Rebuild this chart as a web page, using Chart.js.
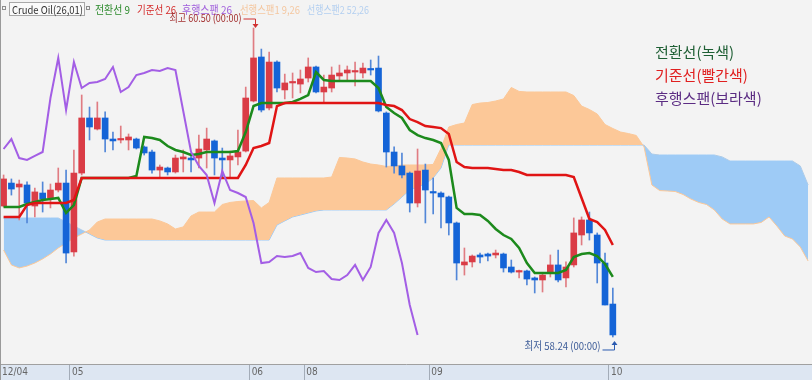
<!DOCTYPE html>
<html><head><meta charset="utf-8">
<script src="https://cdn.jsdelivr.net/npm/chart.js@4.4.1/dist/chart.umd.min.js"></script>
<style>html,body{margin:0;padding:0;background:#f3f3f3;}canvas{display:block;}</style>
</head><body>
<canvas id="c" width="812" height="380"></canvas>
<script>
// ---------- data ----------
const title = 'Crude Oil(26,01)';
const tickLabels = ['12/04', '05', '06', '08', '09', '10'];
const tickAt = [-0.46, 8.5, 31.5, 38.5, 54.5, 77.5];

const open = [59.198,59.366,59.337,59.352,59.198,59.293,59.257,59.315,59.366,58.862,
59.439,59.842,59.761,59.842,59.688,59.681,59.681,59.688,59.630,59.593,
59.461,59.476,59.447,59.542,59.549,59.549,59.608,59.674,59.549,59.535,
59.557,59.600,59.966,60.288,59.915,60.251,60.047,60.098,60.090,60.134,
60.215,60.032,60.061,60.149,60.171,60.178,60.171,60.200,60.207,59.878,
59.593,59.491,59.439,59.220,59.461,59.301,59.293,59.264,59.074,58.767,
58.789,58.840,58.847,58.840,58.847,58.752,58.715,58.723,58.672,58.657,
58.715,58.767,58.672,58.767,58.986,59.096,58.986,58.781,58.481];
const high = [59.425,59.396,59.388,59.374,59.330,59.374,59.359,59.476,59.461,59.608,
60.010,59.922,59.959,59.886,59.739,59.783,59.725,59.695,59.637,59.608,
59.498,59.483,59.571,59.608,59.586,59.717,59.768,59.681,59.622,59.600,
59.754,60.068,60.500,60.346,60.324,60.259,60.163,60.171,60.193,60.281,
60.222,60.156,60.215,60.229,60.222,60.251,60.244,60.266,60.295,59.886,
59.630,59.586,59.447,59.615,59.505,59.403,59.301,59.271,59.081,58.891,
58.840,58.854,58.854,58.876,58.854,58.803,58.730,58.730,58.679,58.708,
58.840,58.876,58.789,59.111,59.118,59.154,59.001,58.854,58.598];
const low = [59.191,59.278,59.096,59.074,59.118,59.154,59.184,59.301,58.781,58.832,
59.425,59.681,59.754,59.593,59.608,59.659,59.608,59.615,59.571,59.439,
59.410,59.425,59.439,59.447,59.447,59.476,59.476,59.425,59.410,59.403,
59.498,59.593,59.959,59.886,59.900,60.032,59.981,59.988,60.025,60.105,
60.025,59.959,60.032,60.120,60.120,60.076,60.134,60.156,59.886,59.483,
59.439,59.403,59.154,59.191,59.074,59.140,59.037,58.986,58.657,58.693,
58.752,58.781,58.796,58.818,58.715,58.708,58.672,58.620,58.562,58.569,
58.679,58.642,58.606,58.752,58.913,58.949,58.635,58.474,58.240];
const close = [59.396,59.322,59.359,59.220,59.301,59.249,59.315,59.366,58.854,59.439,
59.842,59.776,59.842,59.688,59.674,59.688,59.703,59.622,59.586,59.461,
59.483,59.447,59.549,59.557,59.535,59.615,59.688,59.549,59.535,59.564,
59.593,59.988,60.281,59.900,60.251,60.061,60.098,60.105,60.127,60.215,
60.032,60.068,60.156,60.171,60.193,60.186,60.207,60.193,59.893,59.593,
59.491,59.425,59.220,59.454,59.315,59.293,59.264,59.074,58.781,58.789,
58.832,58.825,58.832,58.854,58.745,58.715,58.723,58.664,58.657,58.693,
58.767,58.657,58.752,59.001,59.096,59.001,58.781,58.474,58.255];

// 전환선 (conversion line)
const conversion = [59.191,59.191,59.191,59.213,59.227,59.242,59.249,59.257,59.147,59.205,
59.403,59.403,59.403,59.403,59.403,59.403,59.403,59.417,59.703,59.695,
59.681,59.637,59.608,59.593,59.571,59.578,59.593,59.593,59.593,59.593,
59.600,59.739,59.929,59.951,59.951,59.951,59.951,59.959,59.981,60.010,
60.178,60.120,60.112,60.112,60.112,60.112,60.112,60.112,60.061,59.922,
59.878,59.842,59.754,59.717,59.695,59.681,59.659,59.535,59.184,59.140,
59.140,59.132,59.089,59.030,58.986,58.957,58.891,58.781,58.708,58.708,
58.708,58.708,58.730,58.825,58.847,58.854,58.832,58.774,58.679];
// 기준선 (base line)
const baseLine = [59.118,59.118,59.118,59.205,59.220,59.220,59.220,59.220,59.220,59.242,
59.403,59.403,59.403,59.403,59.403,59.403,59.403,59.403,59.403,59.403,
59.403,59.403,59.403,59.403,59.403,59.403,59.403,59.403,59.403,59.403,
59.403,59.498,59.622,59.637,59.659,59.929,59.951,59.951,59.951,59.951,
59.951,59.951,59.951,59.951,59.951,59.951,59.951,59.951,59.951,59.937,
59.929,59.900,59.834,59.812,59.783,59.776,59.768,59.725,59.520,59.483,
59.476,59.476,59.476,59.469,59.461,59.461,59.447,59.425,59.425,59.425,
59.425,59.425,59.425,59.410,59.257,59.103,59.081,59.023,58.913];
// 후행스팬 (lagging span, plotted from the first bar)
const lagging = [59.615,59.688,59.549,59.535,59.564,59.593,59.988,60.281,59.900,60.251,
60.061,60.098,60.105,60.127,60.215,60.032,60.068,60.156,60.171,60.193,
60.186,60.207,60.193,59.893,59.593,59.491,59.425,59.220,59.454,59.315,
59.293,59.264,59.074,58.781,58.789,58.832,58.825,58.832,58.854,58.745,
58.715,58.723,58.664,58.657,58.693,58.767,58.657,58.752,59.001,59.096,
59.001,58.781,58.474,58.255];
// 선행스팬1 / 선행스팬2 (leading spans, extend 25 bars to the right)
const span1 = [58.876,58.767,58.745,58.759,58.781,58.811,58.847,58.891,58.927,58.964,
58.993,59.023,59.081,59.103,59.103,59.103,59.103,59.103,59.103,59.103,
59.089,59.067,59.030,59.045,59.125,59.154,59.154,59.154,59.209,59.224,
59.231,59.235,59.238,59.184,59.224,59.403,59.403,59.403,59.403,59.403,
59.403,59.403,59.410,59.553,59.549,59.542,59.520,59.505,59.498,59.487,
59.491,59.498,59.498,59.498,59.498,59.502,59.619,59.776,59.794,59.805,
59.940,59.951,59.955,59.966,59.981,60.065,60.036,60.032,60.032,60.032,
60.032,60.032,60.032,60.006,59.929,59.904,59.871,59.794,59.765,59.739,
59.728,59.714,59.630,59.352,59.311,59.308,59.304,59.282,59.249,59.224,
59.209,59.169,59.103,59.067,59.067,59.067,59.067,59.078,59.118,59.052,
58.979,58.957,58.898,58.796];
const span2 = [59.110,59.110,59.110,59.110,59.110,59.110,59.110,59.110,59.081,59.052,
59.023,58.993,58.964,58.949,58.949,58.949,58.949,58.949,58.949,58.949,
58.949,58.949,58.949,58.949,58.949,58.949,58.949,58.949,58.949,58.949,
58.949,58.949,58.949,58.949,58.949,59.059,59.089,59.118,59.132,59.147,
59.162,59.169,59.169,59.169,59.169,59.169,59.169,59.169,59.169,59.169,
59.213,59.264,59.315,59.337,59.359,59.403,59.476,59.644,59.644,59.644,
59.644,59.644,59.644,59.644,59.644,59.644,59.644,59.644,59.644,59.644,
59.644,59.644,59.644,59.644,59.644,59.644,59.644,59.644,59.644,59.644,
59.644,59.644,59.644,59.578,59.571,59.571,59.571,59.571,59.571,59.571,
59.571,59.571,59.557,59.527,59.527,59.527,59.527,59.527,59.527,59.527,
59.527,59.527,59.491,59.352];

// ---------- build tables ----------
const pts = arr => arr.map((v, i) => ({x: i, y: v}));
const wick = open.map((_, i) => ({x: i, y: [low[i], high[i]]}));
const body = open.map((_, i) => ({x: i, y: [open[i], close[i]]}));
const isUp = open.map((o, i) => close[i] >= o);

const ORANGE = '#fcc898', SKY = '#9ecbf6';
const F = '"Noto Sans CJK KR", "Noto Sans", sans-serif';

const overlay = {
  id: 'overlay',
  beforeDraw(chart) {
    const {ctx, chartArea: ca, width, height} = chart;
    ctx.save();
    ctx.fillStyle = '#f3f3f3';
    ctx.fillRect(0, 0, width, height);
    ctx.fillStyle = '#dde6f2';
    ctx.fillRect(0, ca.bottom, width, height - ca.bottom);
    ctx.restore();
  },
  afterDraw(chart) {
    const {ctx, chartArea: ca, scales: {x, y}} = chart;
    ctx.save();
    ctx.strokeStyle = '#9a9a9a'; ctx.lineWidth = 1;
    ctx.beginPath(); ctx.moveTo(0.5, 0); ctx.lineTo(0.5, chart.height); ctx.stroke();

    // header
    ctx.textBaseline = 'middle'; ctx.textAlign = 'left';
    ctx.strokeStyle = '#8c8c8c';
    ctx.strokeRect(2.5, 6.5, 3, 3);
    ctx.strokeRect(86.5, 6.5, 3, 3);
    ctx.fillStyle = '#fafafa'; ctx.fillRect(9, 2, 76, 14);
    ctx.strokeStyle = '#a8a8a8'; ctx.strokeRect(9.5, 2.5, 75, 13);
    ctx.font = '11px ' + F; ctx.fillStyle = '#333';
    ctx.fillText(title, 12, 9.5, 71);
    const items = [
      ['전환선 9', 95, 35, '#2b8a2b'],
      ['기준선 26', 137, 39, '#d42a2a'],
      ['후행스팬 26', 182, 50, '#a15fdc'],
      ['선행스팬1 9,26', 240, 60, '#f4c7a0'],
      ['선행스팬2 52,26', 307, 62, '#b3cff0']
    ];
    items.forEach(([t, px, w, c]) => { ctx.fillStyle = c; ctx.fillText(t, px, 9.5, w); });

    // high annotation
    const hi = high.indexOf(Math.max(...high));
    const hx = Math.round(x.getPixelForValue(hi)) + 1.5, hy = y.getPixelForValue(high[hi]);
    ctx.strokeStyle = '#d03030'; ctx.fillStyle = '#d03030';
    ctx.beginPath(); ctx.moveTo(hx - 12, hy - 9); ctx.lineTo(hx, hy - 9); ctx.lineTo(hx, hy - 3); ctx.stroke();
    ctx.beginPath(); ctx.moveTo(hx - 3, hy - 4); ctx.lineTo(hx + 3, hy - 4); ctx.lineTo(hx, hy); ctx.closePath(); ctx.fill();
    ctx.fillStyle = '#a33030'; ctx.textAlign = 'right';
    ctx.fillText('최고 ' + high[hi].toFixed(2) + ' (00:00)', hx - 14, hy - 10, 72);

    // low annotation
    const li = low.indexOf(Math.min(...low));
    const lx = Math.round(x.getPixelForValue(li)) + 1.5, ly = y.getPixelForValue(low[li]);
    ctx.strokeStyle = '#2a5ab0'; ctx.fillStyle = '#2a5ab0';
    ctx.beginPath(); ctx.moveTo(lx - 12, ly + 13); ctx.lineTo(lx, ly + 13); ctx.lineTo(lx, ly + 7); ctx.stroke();
    ctx.beginPath(); ctx.moveTo(lx - 3, ly + 8); ctx.lineTo(lx + 3, ly + 8); ctx.lineTo(lx, ly + 4); ctx.closePath(); ctx.fill();
    ctx.fillStyle = '#3d5c98'; ctx.textAlign = 'right';
    ctx.fillText('최저 ' + low[li].toFixed(2) + ' (00:00)', lx - 14, ly + 9, 76);

    // right legend
    ctx.textAlign = 'left'; ctx.font = '15px ' + F;
    [['전환선(녹색)', 52, 86, '#1e5f34'], ['기준선(빨간색)', 75, 97, '#e02020'], ['후행스팬(보라색)', 98, 113, '#5b2c83']]
      .forEach(([t, py, w, c]) => { ctx.fillStyle = c; ctx.fillText(t, 655, py, w); });
    ctx.restore();
  }
};

new Chart(document.getElementById('c'), {
  type: 'bar',
  data: {
    datasets: [
      {type: 'line', label: '후행스팬', data: pts(lagging), borderColor: '#a35ee5', borderWidth: 2, pointRadius: 0, tension: 0, order: 0},
      {type: 'line', label: '기준선', data: pts(baseLine), borderColor: '#e01414', borderWidth: 2.5, pointRadius: 0, tension: 0, order: 1},
      {type: 'line', label: '전환선', data: pts(conversion), borderColor: '#1c8a1c', borderWidth: 2.5, pointRadius: 0, tension: 0, order: 2},
      {type: 'bar', label: 'wick', data: wick, grouped: false, barThickness: 1, minBarLength: 1,
        backgroundColor: isUp.map(u => u ? '#e07c82' : '#5287d8'), borderWidth: 0, order: 6},
      {type: 'bar', label: 'body', data: body, grouped: false, barThickness: 6, minBarLength: 1.5,
        backgroundColor: isUp.map(u => u ? '#da3c46' : '#1464d7'), borderWidth: 0, borderSkipped: false, order: 5},
      {type: 'line', label: '선행스팬1', data: pts(span1), borderColor: ORANGE, borderWidth: 1, pointRadius: 0, tension: 0,
        fill: {target: '+1', above: ORANGE, below: SKY}, order: 10},
      {type: 'line', label: '선행스팬2', data: pts(span2), borderColor: SKY, borderWidth: 1, pointRadius: 0, tension: 0, order: 11}
    ]
  },
  options: {
    responsive: false,
    devicePixelRatio: 1,
    animation: false,
    events: [],
    layout: {padding: 0},
    plugins: {legend: {display: false}, tooltip: {enabled: false}},
    scales: {
      x: {
        type: 'linear', position: 'bottom', min: -0.46, max: 103.5, bounds: 'data', offset: false,
        afterBuildTicks: s => { s.ticks = tickAt.map(v => ({value: v})); },
        afterFit: s => { s.height = 16; s.paddingLeft = 0; s.paddingRight = 0; },
        ticks: {callback: (v, i) => tickLabels[i], align: 'start', labelOffset: 2, padding: -14,
          autoSkip: false, maxRotation: 0, color: '#666',
          font: {family: '"Liberation Sans Narrow", "DejaVu Sans Condensed", "Liberation Sans", sans-serif', size: 10}},
        grid: {drawOnChartArea: false, drawTicks: true, tickLength: 16, color: '#a3acb8', offset: false},
        border: {display: true, color: '#a0a0a0'}
      },
      y: {type: 'linear', display: false, min: 58.0425, max: 60.7048}
    }
  },
  plugins: [overlay]
});
</script></body></html>
